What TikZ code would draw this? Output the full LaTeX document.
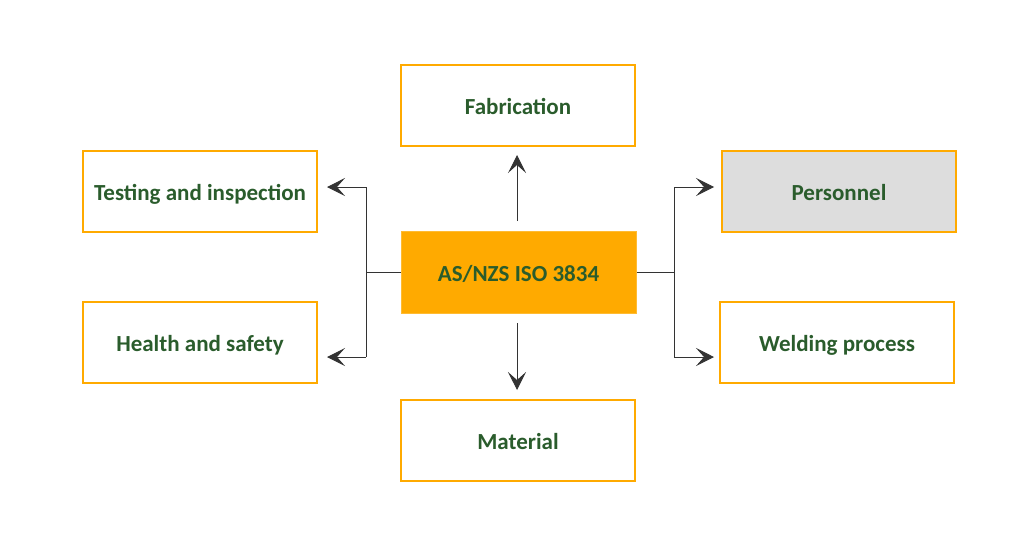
\documentclass[tikz,border=0pt]{standalone}
\usepackage{fontspec}
\setmainfont{Carlito}
\usetikzlibrary{arrows.meta}
\definecolor{boxor}{HTML}{FFAA00}
\definecolor{txtgreen}{HTML}{2A5C2C}
\definecolor{linegray}{HTML}{333333}
\definecolor{pgray}{HTML}{DDDDDD}
\begin{document}
\begin{tikzpicture}[x=1pt,y=-1pt,
  box/.style={draw=boxor,line width=2pt,minimum width=234pt,minimum height=81pt,inner sep=0pt,
    text height=22pt,text depth=4pt,
    font=\fontsize{23}{27}\selectfont\bfseries,text=txtgreen},
  conn/.style={draw=linegray,line width=1pt},
  arr/.style={conn,-{Stealth[length=18pt,width=18pt,inset=8pt]}}]
\useasboundingbox (0,0) rectangle (1024,536);
\node[box] (fab) at (518,105) {Fabrication};
\node[box] (test) at (200,191.5) {Testing and inspection};
\node[box,fill=pgray] (pers) at (839,191.5) {Personnel};
\node[box,fill=boxor,draw=boxor!80!white,line width=1pt,minimum width=235pt,minimum height=82pt] (iso) at (518.5,272) {AS/NZS ISO 3834};
\node[box] (hs) at (200,342.5) {Health and safety};
\node[box] (weld) at (837,342.5) {Welding process};
\node[box] (mat) at (518,440.5) {Material};
\coordinate (ut) at (517,221);
\coordinate (dt) at (517,323);
\draw[arr] (ut) -- (517,155);
\draw[arr] (dt) -- (517,390);
\coordinate (lb) at (366,272);
\coordinate (rb) at (674,272);
\draw[conn] (iso.west) -- (lb);
\draw[conn] (366,187) -- (366,357);
\draw[arr] (366,187) -- (327,187);
\draw[arr] (366,357) -- (327,357);
\draw[conn] (iso.east) -- (rb);
\draw[conn] (674,187) -- (674,357);
\draw[arr] (674,187) -- (714,187);
\draw[arr] (674,357) -- (714,357);
\end{tikzpicture}
\end{document}
